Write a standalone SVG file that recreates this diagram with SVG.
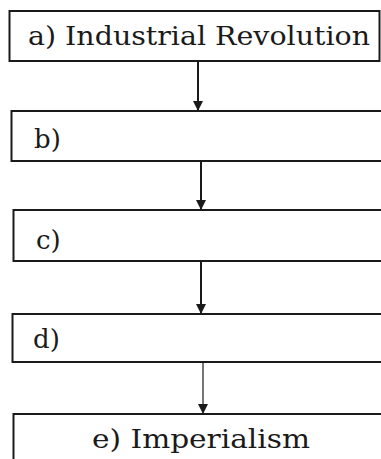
<svg xmlns="http://www.w3.org/2000/svg" width="381" height="459" viewBox="0 0 381 459">
<style>
.box{fill:#fff;stroke:#1a1a1a;stroke-width:2}
.lbl{font-family:"DejaVu Serif","Liberation Serif",serif;font-size:26px;fill:#1a1a1a}
.con{stroke:#1a1a1a;stroke-width:2;fill:none}
</style>
<defs>
<marker id="ah" viewBox="0 0 10 10" refX="10" refY="5" markerWidth="10" markerHeight="11" markerUnits="userSpaceOnUse" orient="auto">
<path d="M0,0 L10,5 L0,10 Z" fill="#1a1a1a"/>
</marker>
</defs>
<rect width="381" height="459" fill="#fff"/>
<g id="connectors">
<line class="con" x1="198" y1="61" x2="198" y2="111" marker-end="url(#ah)"/>
<line class="con" x1="201" y1="161" x2="201" y2="210" marker-end="url(#ah)"/>
<line class="con" x1="201" y1="261" x2="201" y2="314" marker-end="url(#ah)"/>
<line class="con" x1="203" y1="362" x2="203" y2="414" marker-end="url(#ah)" style="stroke-width:1.2"/>
</g>
<g id="node-a">
<rect class="box" x="9.5" y="11" width="370" height="50"/>
<text class="lbl" x="28" y="45" textLength="342" lengthAdjust="spacingAndGlyphs">a) Industrial Revolution</text>
</g>
<g id="node-b">
<rect class="box" x="11.5" y="111" width="380" height="50"/>
<text class="lbl" x="34" y="148">b)</text>
</g>
<g id="node-c">
<rect class="box" x="13.5" y="210" width="380" height="51"/>
<text class="lbl" x="36" y="249">c)</text>
</g>
<g id="node-d">
<rect class="box" x="12.5" y="314" width="380" height="48"/>
<text class="lbl" x="33" y="348">d)</text>
</g>
<g id="node-e">
<rect class="box" x="13.5" y="414" width="380" height="60"/>
<text class="lbl" x="92" y="448" textLength="218" lengthAdjust="spacingAndGlyphs">e) Imperialism</text>
</g>
</svg>
